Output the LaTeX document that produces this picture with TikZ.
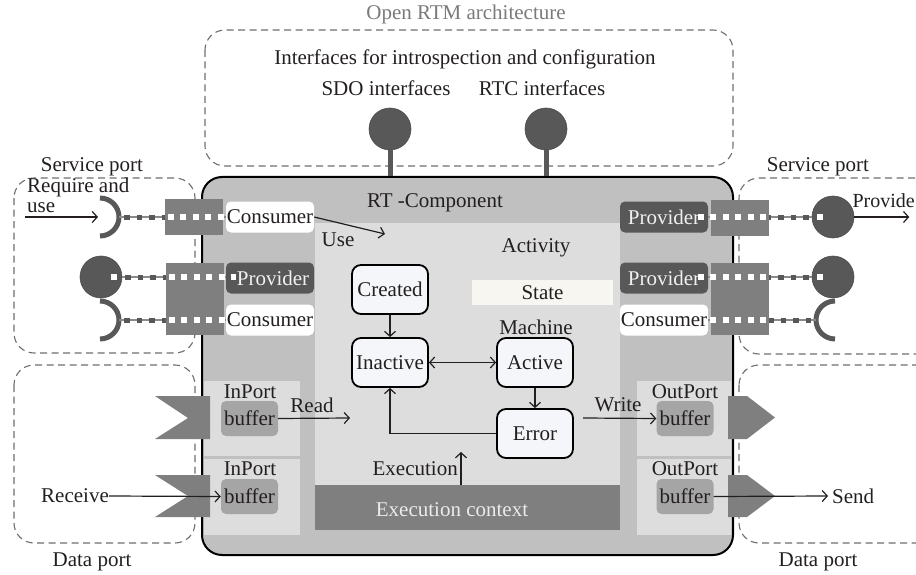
\documentclass[tikz,border=0pt]{standalone}
\usepackage{fontspec}
\setmainfont{Liberation Serif}
\usetikzlibrary{arrows.meta}
\definecolor{mainfill}{HTML}{C0C0C0}
\definecolor{lightfill}{HTML}{DDDDDD}
\definecolor{portg}{HTML}{7F7F7F}
\definecolor{darkg}{HTML}{585858}
\definecolor{bufg}{HTML}{A5A5A5}
\definecolor{statef}{HTML}{F5F6F9}
\definecolor{statelbl}{HTML}{F7F6F1}
\definecolor{dashg}{HTML}{6E6E6E}
\definecolor{titleg}{HTML}{7A7A7A}
\definecolor{txt}{HTML}{231F20}
\definecolor{linkg}{HTML}{8A8A8A}
\begin{document}
\begin{tikzpicture}[x=1pt,y=-1pt,
  font=\fontsize{21}{22}\selectfont, text=txt,
  lbl/.style={inner sep=0pt},
  dashbox/.style={draw=dashg, line width=1.1pt, dash pattern=on 7pt off 4.5pt, rounded corners=20pt},
  svcbox/.style={rounded corners=5pt, minimum width=88pt, minimum height=31pt, inner sep=0pt},
  consbox/.style={svcbox, fill=white},
  provbox/.style={svcbox, fill=darkg, text=white!94!black},
  portbox/.style={fill=portg, inner sep=0pt, minimum width=58pt},
  bufbox/.style={fill=bufg, rounded corners=5pt, minimum width=57pt, minimum height=35pt, inner sep=0pt},
  statebox/.style={draw=black, line width=1.8pt, fill=statef, rounded corners=9pt, minimum width=76pt, minimum height=49pt, inner sep=0pt},
  ifcirc/.style={circle, fill=darkg, draw=black!70, line width=0.6pt, minimum size=42pt, inner sep=0pt},
  arr/.style={draw=txt, line width=1.2pt, -{Straight Barb[length=5pt,width=11pt]}},
  barr/.style={draw=txt, line width=1.2pt, {Straight Barb[length=5pt,width=11pt]}-{Straight Barb[length=5pt,width=11pt]}},
  sock/.style={draw=darkg, line width=5pt},
  stem/.style={draw=darkg, line width=5pt},
  wire/.style={draw=linkg, line width=1.6pt},
  dotdark/.style={draw=darkg, line width=5pt, dash pattern=on 5.5pt off 7pt},
  dotwhite/.style={draw=white, line width=6pt, dash pattern=on 6pt off 6.5pt},
]
\useasboundingbox (0,0) rectangle (916,575);

% ---- dashed enclosures
\draw[dashbox] (205,30) rectangle (733,166);
\draw[dashbox] (14,178) rectangle (195,353);
\draw[dashbox] (14,365) rectangle (195,543);
\draw[dashbox] (739,178) rectangle (950,354);
\draw[dashbox] (739,365) rectangle (950,543);

% ---- top labels
\node[lbl, text=titleg] (title) at (466,14) {Open RTM architecture};
\node[lbl] (intf) at (465,59) {Interfaces for introspection and configuration};
\node[lbl] (sdo) at (386,88) {SDO interfaces};
\node[lbl] (rtci) at (542,88) {RTC interfaces};
\node[lbl] (svl) at (92,167) {Service port};
\node[lbl] (svr) at (818,167) {Service port};
\node[lbl] (dpl) at (92,562) {Data port};
\node[lbl] (dpr) at (818,562) {Data port};

% ---- interface circles
\node[ifcirc] (sdoc) at (390,129) {};
\node[ifcirc] (rtcc) at (546,129) {};

% ---- main component
\node[draw=black, line width=2pt, fill=mainfill, rounded corners=20pt,
      minimum width=531pt, minimum height=378pt, inner sep=0pt] (rtcomp) at (467.5,366) {};
\draw[stem] (sdoc.south) -- (sdoc.south |- rtcomp.north);
\draw[stem] (rtcc.south) -- (rtcc.south |- rtcomp.north);

% ---- inner regions
\fill[lightfill] (315,223) rectangle (620,530);
\fill[lightfill] (204,381) rectangle (300,456);
\fill[lightfill] (204,459) rectangle (300,535);
\fill[lightfill] (637,381) rectangle (731,456);
\fill[lightfill] (637,459) rectangle (731,535);

\node[lbl] (rtlabel) at (435,203) {RT -Component};
\node[lbl] (actlbl) at (536,248) {Activity};
\node[fill=statelbl, minimum width=141pt, minimum height=25pt, inner sep=0pt] (stlbl) at (542.5,292.5) {State};
\node[lbl] (machlbl) at (536,327) {Machine};

% ---- execution context
\node[fill=portg, minimum width=305pt, minimum height=45pt, inner sep=0pt] (exec) at (467.5,507.5) {};
\node[lbl, text=white!92!black] (exectxt) at (452,510) {Execution context};
\coordinate (exend) at (461,452);
\draw[arr] (exec.north -| exend) -- (exend);
\node[lbl, anchor=east] (execlbl) at (458,469) {Execution};

% ---- state machine
\node[statebox] (created) at (390,289.5) {Created};
\node[statebox] (inactive) at (390,362.5) {Inactive};
\node[statebox] (active) at (535,362.5) {Active};
\node[statebox] (error) at (535,433.5) {Error};
\draw[arr] (created) -- (inactive);
\draw[barr] (inactive) -- (active);
\draw[arr] (active) -- (error);
\draw[arr] (error.west) -| (inactive.south);

% ---- service boxes
\node[consbox] (lcA) at (270,217) {Consumer};
\node[provbox] (lpB) at (270,278) {\hspace{6pt}Provider};
\node[consbox] (lcC) at (270,320) {Consumer};
\node[provbox] (rpA) at (664,217) {Provider\hspace{6pt}};
\node[provbox] (rpB) at (664,278) {Provider\hspace{6pt}};
\node[consbox] (rcC) at (664,320) {Consumer};

% ---- sockets and balls
\draw[sock] (100,198) arc[start angle=90, end angle=-90, radius=19pt];
\draw[sock] (100,301) arc[start angle=90, end angle=-90, radius=19pt];
\draw[sock] (835,301) arc[start angle=90, end angle=270, radius=19pt];
\coordinate (lsA) at (119,217);
\coordinate (lsC) at (119,320);
\coordinate (rsC) at (816,320);
\node[ifcirc] (lcirB) at (101,277) {};
\node[ifcirc] (rcirA) at (833,217) {};
\node[ifcirc] (rcirB) at (833,277) {};

% thin wires
\draw[wire] (lsA) -- (lcA.west);
\draw[wire] (lcirB.east) -- (lcirB.east -| lpB.west);
\draw[wire] (lsC) -- (lcC.west);
\draw[wire] (rcirA.west) -- (rcirA.west -| rpA.east);
\draw[wire] (rcirB.west) -- (rcirB.west -| rpB.east);
\draw[wire] (rsC) -- (rcC.east);
% dark squares outside the ports
\draw[dotdark] ([xshift=5pt]lsA) -- ([xshift=48pt]lsA);
\draw[dotdark] ([xshift=3pt]lcirB.east) -- ([xshift=46pt]lcirB.east);
\draw[dotdark] ([xshift=5pt]lsC) -- ([xshift=48pt]lsC);
\draw[dotdark] ([xshift=-3pt]rcirA.west) -- ([xshift=-46pt]rcirA.west);
\draw[dotdark] ([xshift=-3pt]rcirB.west) -- ([xshift=-46pt]rcirB.west);
\draw[dotdark] ([xshift=-5pt]rsC) -- ([xshift=-48pt]rsC);

% ---- port squares
\node[portbox, minimum height=36pt] (lsqA) at (194,217) {};
\node[portbox, minimum height=72pt] (lsqB) at (195,299) {};
\node[portbox, minimum height=36pt] (rsqA) at (740,217.5) {};
\node[portbox, minimum height=72pt] (rsqB) at (740,299) {};

% white squares inside ports
\draw[dotwhite] ([xshift=3pt]lsqA.west |- lcA.west) -- (lcA.west);
\draw[dotwhite] ([xshift=3pt]lsqB.west |- lcirB.east) -- ([xshift=10pt]lpB.west |- lcirB.east);
\draw[dotwhite] ([xshift=3pt]lsqB.west |- lcC.west) -- (lcC.west);
\draw[dotwhite] ([xshift=-3pt]rsqA.east |- rcirA.west) -- ([xshift=-10pt]rpA.east |- rcirA.west);
\draw[dotwhite] ([xshift=-3pt]rsqB.east |- rcirB.west) -- ([xshift=-10pt]rpB.east |- rcirB.west);
\draw[dotwhite] ([xshift=-3pt]rsqB.east |- rcC.east) -- ([xshift=-1pt]rcC.east);
\draw[dotwhite] ([xshift=10pt]lcirB.center) -- ([xshift=16pt]lcirB.center);
\draw[dotwhite] ([xshift=-10pt]rcirA.center) -- ([xshift=-16pt]rcirA.center);
\draw[dotwhite] ([xshift=-10pt]rcirB.center) -- ([xshift=-16pt]rcirB.center);

% ---- service port texts and arrows
\node[lbl, anchor=base west] (req1) at (27,193) {Require and};
\node[lbl, anchor=base west] (req2) at (27,212) {use};
\coordinate (reqstart) at (25,217);
\draw[arr] (reqstart) -- ([xshift=-2pt]lsA -| 100,0);
\coordinate (useend) at (385,234);
\draw[arr] (lcA.east) -- (useend);
\node[lbl] (uselbl) at (338,240) {Use};
\draw[arr] (rcirA.east) -- ++(55,0);
\node[lbl, anchor=east, font=\fontsize{20}{22}\selectfont] (provlbl) at (915,201) {Provide};

% ---- data ports
\fill[portg] (155,396) -- (210,396) -- (210,439) -- (155,439) -- (188,418) -- cycle;
\fill[portg] (155,475) -- (210,475) -- (210,517) -- (155,517) -- (188,496) -- cycle;
\fill[portg] (728,396) -- (747,396) -- (775,417.5) -- (747,439) -- (728,439) -- cycle;
\fill[portg] (728,475) -- (747,475) -- (775,496) -- (747,517) -- (728,517) -- cycle;

\node[lbl] (ipl1) at (250,392) {InPort};
\node[bufbox] (ib1) at (249.5,418.5) {buffer};
\node[lbl] (ipl2) at (250,469) {InPort};
\node[bufbox] (ib2) at (249.5,496.5) {buffer};
\node[lbl] (opl1) at (685,392) {OutPort};
\node[bufbox] (ob1) at (685,418.5) {buffer};
\node[lbl] (opl2) at (685,469) {OutPort};
\node[bufbox] (ob2) at (685,496.5) {buffer};

\node[lbl] (recv) at (75,496) {Receive};
\draw[arr] (recv.east) -- (ib2.west);
\node[lbl, anchor=west] (send) at (832,496) {Send};
\draw[arr] (ob2.east) -- ([xshift=-4pt]send.west);

\coordinate (readend) at (350,418);
\draw[arr] (ib1.east) -- (readend);
\node[lbl] (readlbl) at (312,405) {Read};
\coordinate (wrstart) at (583,418);
\draw[arr] (wrstart) -- (ob1.west);
\node[lbl] (writelbl) at (618,405) {Write};
\end{tikzpicture}
\end{document}
